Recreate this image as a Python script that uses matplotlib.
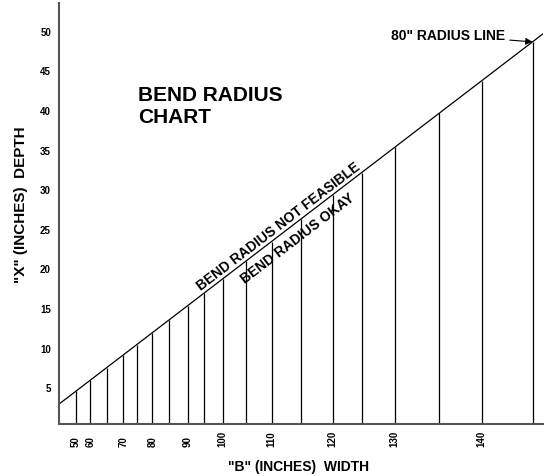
import matplotlib
matplotlib.use("Agg")
import matplotlib.pyplot as plt

plt.rcParams['font.family'] = ['Liberation Sans', 'DejaVu Sans']
plt.rcParams['font.weight'] = 'bold'

# "B" width of each vertical line and its "X" depth on the 80" radius line.
# The chart places every line at a position proportional to its depth,
# which is why the radius line comes out straight.
width_b = [50, 60, 65, 70, 75, 80, 85, 90, 95, 100, 105, 110, 115, 120, 125, 130, 135, 140, 148]
depth_x = [4.5, 5.9, 7.5, 9.1, 10.4, 11.9, 13.5, 15.3, 16.9, 18.7, 20.9, 23.4, 26.2, 29.3,
           32.1, 35.3, 39.6, 43.7, 48.6]

x_tick_labels = [50, 60, 70, 80, 90, 100, 110, 120, 130, 140]
y_ticks = [5, 10, 15, 20, 25, 30, 35, 40, 45, 50]

fig = plt.figure(figsize=(5.51, 4.77), dpi=100)
ax = fig.add_axes([0.1076, 0.1090, 0.8773, 0.8826])

# vertical lines up to the radius line
ax.vlines(depth_x, 0, depth_x, color='black', linewidth=0.9)
# 80" radius line
ax.axline((depth_x[0], depth_x[0]), (depth_x[-1], depth_x[-1]), color='black', linewidth=0.9)

ax.set_xlim(2.91, 49.58)
ax.set_ylim(0.37, 53.5)

# x ticks sit on the labelled lines
tick_pos = [depth_x[width_b.index(b)] for b in x_tick_labels]
ax.set_xticks(tick_pos)
ax.set_xticklabels([str(b) for b in x_tick_labels], rotation=90, fontsize=7, fontweight='bold')
plt.setp(ax.get_xticklabels(), va='bottom')
ax.tick_params(axis='x', length=0, pad=15.6)

ax.set_yticks(y_ticks)
ax.set_yticklabels([str(v) for v in y_ticks], fontsize=7, fontweight='bold')
ax.tick_params(axis='y', length=0, pad=6)

for side in ['top', 'right']:
    ax.spines[side].set_visible(False)
for side in ['left', 'bottom']:
    ax.spines[side].set_linewidth(1.5)
    ax.spines[side].set_color('#555555')

ax.set_xlabel('"B" (INCHES)  WIDTH', fontsize=10, fontweight='bold')
ax.xaxis.set_label_coords(0.4952, -0.083)
ax.xaxis.label.set_va('top')
ax.set_ylabel('"X" (INCHES)  DEPTH', fontsize=11, fontweight='bold')
ax.yaxis.set_label_coords(-0.0641, 0.5226)

# chart title inside the plot
ax.text(0.163, 0.806, 'BEND RADIUS\nCHART', transform=ax.transAxes, fontsize=15,
        fontweight='bold', ha='left', va='top', linespacing=1.25)

# region labels along the radius line
ax.text(24.1, 25.4, 'BEND RADIUS NOT FEASIBLE', fontsize=10, fontweight='bold',
        rotation=37.4, rotation_mode='anchor', ha='center', va='center')
ax.text(25.9, 23.85, 'BEND RADIUS OKAY', fontsize=10, fontweight='bold',
        rotation=37.4, rotation_mode='anchor', ha='center', va='center')

ax.annotate('80" RADIUS LINE', xy=(depth_x[-1], depth_x[-1]), xytext=(46.0, 49.4),
            fontsize=10, fontweight='bold', ha='right', va='center',
            arrowprops=dict(arrowstyle='-|>', color='black', lw=0.8,
                            shrinkA=1, shrinkB=0, mutation_scale=10))

fig.savefig('out.png', dpi=100)
